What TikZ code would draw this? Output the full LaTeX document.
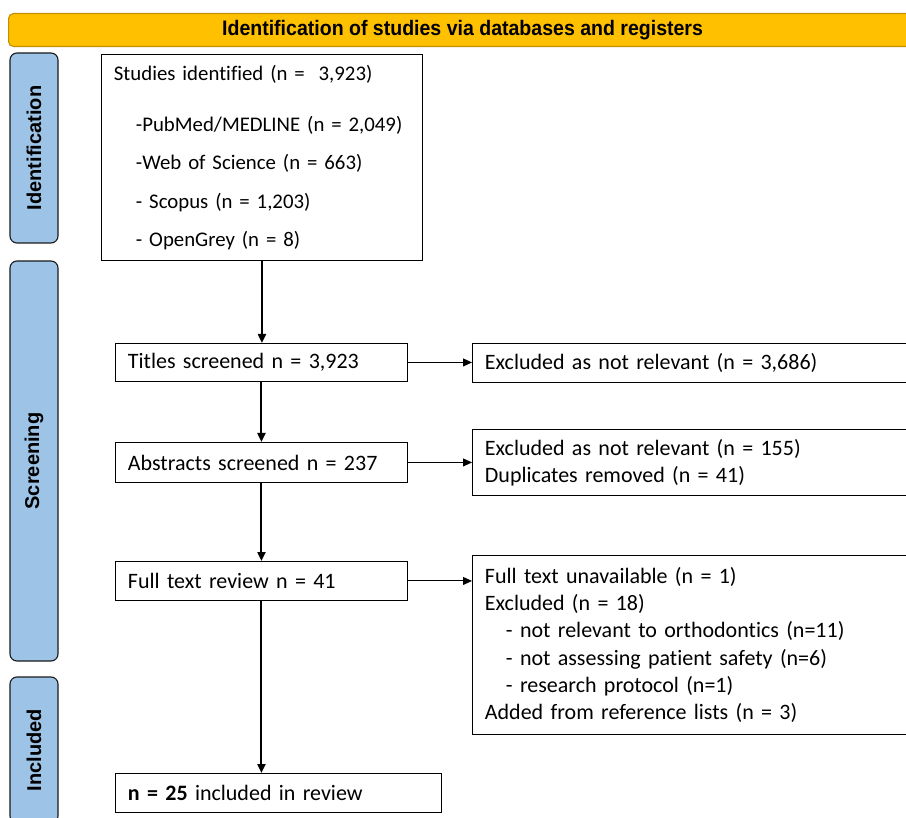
\documentclass[tikz,border=0pt]{standalone}
\usepackage{fontspec}
\setmainfont[Ligatures=NoCommon]{Carlito}
\newfontfamily\hdrfont[FakeStretch=0.93]{Liberation Sans}
\newfontfamily\barfont{Liberation Sans}
\usetikzlibrary{arrows.meta}
\definecolor{hdrfill}{HTML}{FFC000}
\definecolor{hdrline}{HTML}{C09000}
\definecolor{barfill}{HTML}{9DC3E6}
\definecolor{barline}{HTML}{1A1A1A}
\begin{document}
\begin{tikzpicture}[x=1pt,y=-1pt,
  box/.style={draw=black, line width=0.9pt, fill=white, anchor=north west,
    inner xsep=12.5pt, inner ysep=0pt, align=left,
    font=\fontsize{22}{27.3}\selectfont},
  sidebar/.style={draw=barline, line width=1.1pt, fill=barfill, rounded corners=7pt,
    minimum width=48pt, inner sep=0pt,
    font=\barfont\bfseries\fontsize{20}{24}\selectfont},
  hdr/.style={draw=hdrline, line width=1.1pt, fill=hdrfill, rounded corners=5pt,
    anchor=north west, inner sep=0pt, minimum height=33pt,
    font=\hdrfont\bfseries\fontsize{21}{24}\selectfont},
  arr/.style={-{Triangle[length=9pt,width=8pt]}, line width=2pt},
  harr/.style={-{Triangle[length=9pt,width=8pt]}, line width=1pt}
]
\useasboundingbox (0,0) rectangle (906,818);
\clip (0,0) rectangle (906,818);

% header
\node[hdr, minimum width=908pt] (hdr) at (8,13) {Identification of studies via databases and registers};

% side bars
\node[sidebar, minimum height=190pt] (bid) at (34,148) {\rotatebox{90}{Identification}};
\node[sidebar, minimum height=400pt] (bsc) at (34,461) {\rotatebox{90}{Screening}};
\node[sidebar, minimum height=146pt] (bin) at (34,750) {\rotatebox{90}{Included}};

% main column
\node[box, minimum width=321pt, minimum height=206pt, text width=296pt, inner xsep=12pt,
      font=\fontsize{20.8}{27.3}\selectfont] (studies) at (101,54)
 {Studies identified (n =\ \ 3,923)\\[23.5pt]
  \hspace*{22pt}-PubMed/MEDLINE (n = 2,049)\\[11.2pt]
  \hspace*{22pt}-Web of Science (n = 663)\\[11.2pt]
  \hspace*{22pt}- Scopus (n = 1,203)\\[11.2pt]
  \hspace*{22pt}- OpenGrey (n = 8)};

\node[box, minimum width=292pt, minimum height=38pt, text width=267pt] (titles) at (115,343)
 {Titles screened n = 3,923};
\node[box, minimum width=292pt, minimum height=40pt, text width=267pt] (abstr) at (115,442)
 {Abstracts screened n = 237};
\node[box, minimum width=292pt, minimum height=39pt, text width=267pt] (full) at (115,561)
 {Full text review n = 41};
\node[box, minimum width=326pt, minimum height=39pt, text width=301pt] (final) at (115,773)
 {\textbf{n = 25} included in review};

% right column
\node[box, minimum width=450pt, minimum height=39pt, text width=425pt] (ex1) at (472,343)
 {Excluded as not relevant (n = 3,686)};
\node[box, minimum width=450pt, minimum height=66pt, text width=425pt] (ex2) at (472,429)
 {Excluded as not relevant (n = 155)\\
  Duplicates removed (n = 41)};
\node[box, minimum width=450pt, minimum height=179pt, text width=425pt] (ex3) at (472,555)
 {Full text unavailable (n = 1)\\
  Excluded (n = 18)\\
  \hspace*{21pt}- not relevant to orthodontics (n=11)\\
  \hspace*{21pt}- not assessing patient safety (n=6)\\
  \hspace*{21pt}- research protocol (n=1)\\
  Added from reference lists (n = 3)};

% arrows
\draw[arr] (studies.south) -- (studies.south |- titles.north);
\draw[arr] (titles.south) -- (abstr.north);
\draw[arr] (abstr.south) -- (full.north);
\draw[arr] (full.south) -- (full.south |- final.north);
\draw[harr] (titles.east) -- (titles.east -| ex1.west);
\draw[harr] (abstr.east) -- (abstr.east -| ex2.west);
\draw[harr] (full.east) -- (full.east -| ex3.west);
\end{tikzpicture}
\end{document}
